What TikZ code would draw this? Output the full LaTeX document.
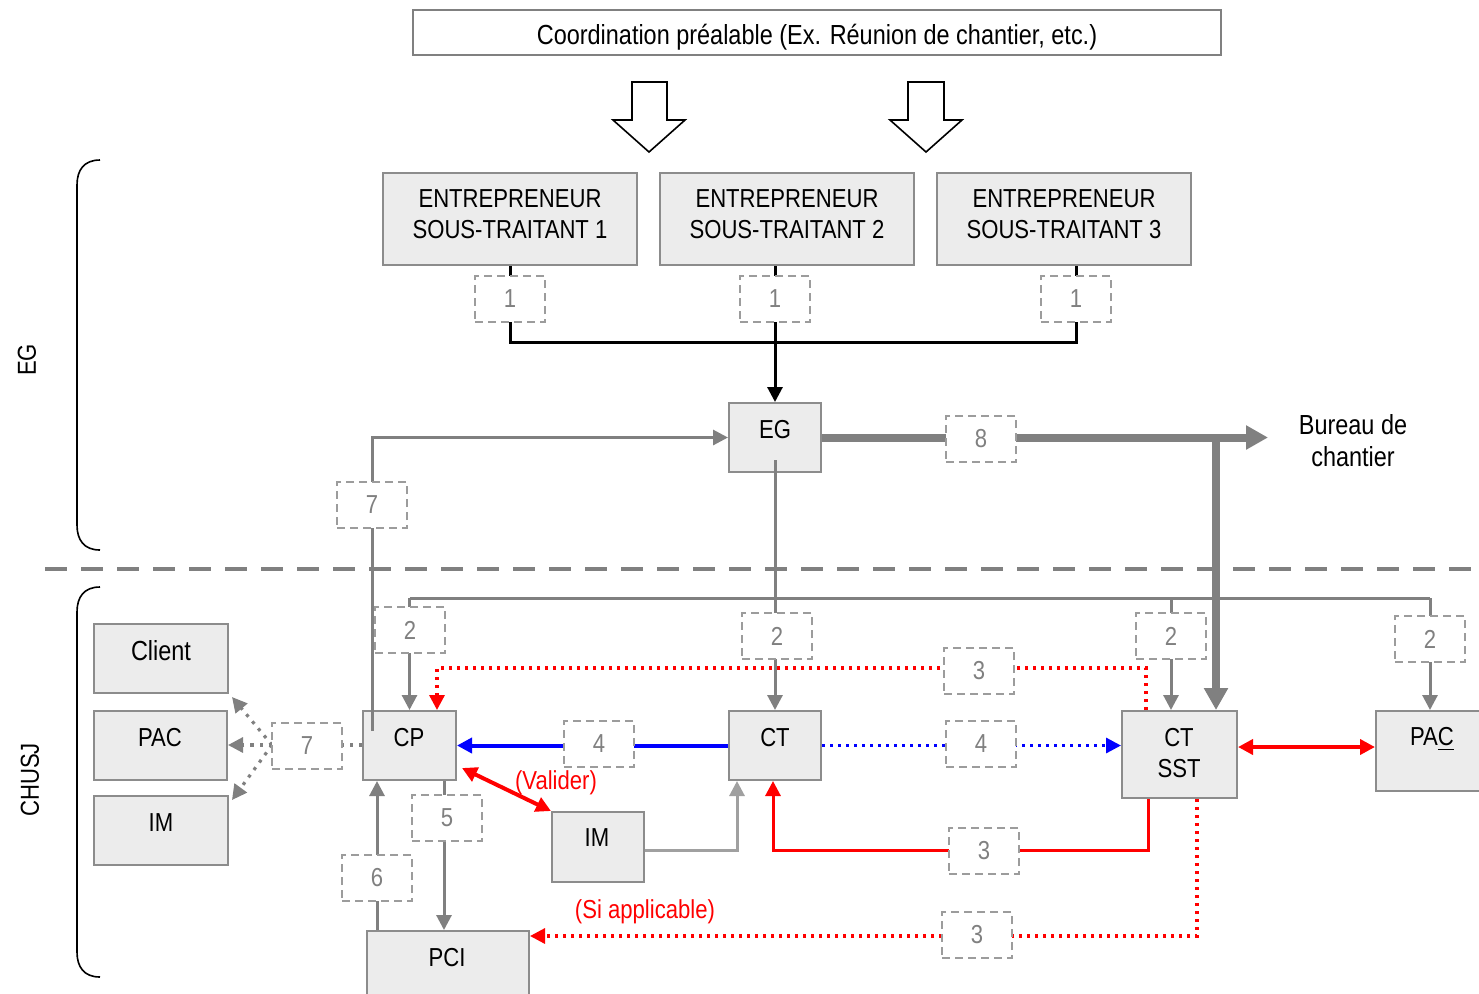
\documentclass[tikz,border=0pt]{standalone}
\usepackage{fontspec}
\setmainfont{Liberation Sans}[FakeStretch=0.85]
\usetikzlibrary{arrows.meta,calc,fit}
\pgfdeclarelayer{lines}
\pgfdeclarelayer{front}
\pgfsetlayers{main,lines,front}
\definecolor{boxfill}{HTML}{ECECEC}
\definecolor{boxline}{HTML}{8C8C8C}
\definecolor{lgray}{HTML}{808080}
\definecolor{dgray}{HTML}{9C9C9C}
\definecolor{mgray}{HTML}{A0A0A0}
\definecolor{myred}{HTML}{FF0000}
\definecolor{myblue}{HTML}{0000FF}
\tikzset{
  box/.style={draw=boxline, fill=boxfill, line width=1pt, inner sep=0pt},
  txt/.style={inner sep=0pt, font=\fontsize{13}{15.5}\selectfont, align=center},
  bigtxt/.style={txt, font=\fontsize{13.8}{16}\selectfont},
  lab/.style={draw=dgray, fill=white, dash pattern=on 4pt off 2.5pt, line width=0.9pt,
    minimum width=35pt, minimum height=23pt, inner sep=0pt, text=lgray,
    font=\fontsize{13}{15}\selectfont},
  gtip/.tip={Triangle[length=7.5pt,width=7.5pt]},
  btip/.tip={Triangle[length=11pt,width=11.5pt]},
  gl/.style={draw=lgray, line width=1.5pt},
  gl2/.style={draw=mgray, line width=1.5pt},
  gthick/.style={draw=lgray, line width=4pt},
  blk/.style={draw=black, line width=1.5pt},
  gdot/.style={draw=lgray, line width=1.6pt, dash pattern=on 1.6pt off 3pt},
  rdot/.style={draw=myred, line width=1.6pt, dash pattern=on 1.6pt off 2.4pt},
  rsol/.style={draw=myred, line width=1.5pt},
  bsol/.style={draw=myblue, line width=2pt},
  bdot/.style={draw=myblue, line width=1.6pt, dash pattern=on 1.6pt off 2.4pt},
  blockarrow/.style={draw=black, line width=0.8pt, fill=white},
  brace/.style={draw=black, line width=0.8pt},
}
\begin{document}
\begin{tikzpicture}[x=0.5pt,y=-0.5pt]
\useasboundingbox (0,0) rectangle (1479,993);

% top box
\node[box, draw=lgray, fill=white, fit={(413,10) (1221,55)}] (top) {};
\node[bigtxt] (toptxt) at (817,37) {Coordination préalable (Ex. Réunion de chantier, etc.)};

% block arrows
\draw[blockarrow] (632,82) -- (667,82) -- (667,120) -- (685,120) -- (649,152) -- (613,120) -- (632,120) -- cycle;
\draw[blockarrow] (908,82) -- (944,82) -- (944,120) -- (962,120) -- (926,152) -- (890,120) -- (908,120) -- cycle;

% entrepreneur boxes
\node[box, fit={(383,173) (637,265)}] (e1) {};
\node[box, fit={(660,173) (914,265)}] (e2) {};
\node[box, fit={(937,173) (1191,265)}] (e3) {};
\node[txt] (e1t) at (510,214) {ENTREPRENEUR\\SOUS-TRAITANT 1};
\node[txt] (e2t) at (787,214) {ENTREPRENEUR\\SOUS-TRAITANT 2};
\node[txt] (e3t) at (1064,214) {ENTREPRENEUR\\SOUS-TRAITANT 3};

% main boxes
\node[box, fit={(729,403) (821,472)}] (eg) {};
\node[txt] (egt) at (775,430) {EG};
\node[box, fit={(94,624) (228,693)}] (client) {};
\node[bigtxt] (clientt) at (161,651) {Client};
\node[box, fit={(94,711) (227,780)}] (pacl) {};
\node[txt] (paclt) at (160,738) {PAC};
\node[box, fit={(94,796) (228,865)}] (iml) {};
\node[txt] (imlt) at (161,823) {IM};
\node[box, fit={(363,711) (456,780)}] (cp) {};
\node[txt] (cpt) at (409,738) {CP};
\node[box, fit={(729,711) (821,780)}] (ct) {};
\node[txt] (ctt) at (775,738) {CT};
\node[box, fit={(1122,711) (1237,798)}] (ctsst) {};
\node[txt] (ctsstt) at (1179,753) {CT\\SST};
\node[box, fit={(1376,711) (1486,791)}] (pacr) {};
\node[txt] (pacrt) at (1432,739) {PA\underline{C}};
\node[box, fit={(552,812) (644,882)}] (imc) {};
\node[txt] (imct) at (597,838) {IM};
\node[box, fit={(367,931) (529,1003)}] (pci) {};
\node[txt] (pcit) at (447,958) {PCI};

% free texts
\node[bigtxt] (bur) at (1353,441) {Bureau de\\chantier};
\node[txt, text=myred] (valider) at (556,783) {(Valider)};
\node[txt, text=myred] (siapp) at (645,912) {(Si applicable)};
\node[txt, rotate=90] (egside) at (27,360) {EG};
\node[txt, rotate=90] (chusj) at (30,780) {CHUSJ};

% braces
\draw[brace] (100,160) .. controls (84,160) and (77,170) .. (77,185) -- (77,525) .. controls (77,540) and (84,550) .. (100,550);
\draw[brace] (100,587) .. controls (84,587) and (77,597) .. (77,612) -- (77,952) .. controls (77,967) and (84,977) .. (100,977);

% separator
\draw[draw=lgray, line width=2pt, dash pattern=on 11pt off 7pt] (45,569) -- (1479,569);

% labels
\begin{pgfonlayer}{front}
\node[lab] (l1a) at (510,299) {1};
\node[lab] (l1b) at (775,299) {1};
\node[lab] (l1c) at (1076,299) {1};
\node[lab] (l7a) at (372,505) {7};
\node[lab] (l8) at (981,439) {8};
\node[lab] (l2a) at (410,630) {2};
\node[lab] (l2b) at (777,636) {2};
\node[lab] (l2c) at (1171,636) {2};
\node[lab] (l2d) at (1430,639) {2};
\node[lab] (l3a) at (979,671) {3};
\node[lab] (l4a) at (599,744) {4};
\node[lab] (l4b) at (981,744) {4};
\node[lab] (l7b) at (307,746) {7};
\node[lab] (l5) at (447,818) {5};
\node[lab] (l3b) at (984,851) {3};
\node[lab] (l6) at (377,878) {6};
\node[lab] (l3c) at (977,935) {3};
\end{pgfonlayer}

% connectors
\begin{pgfonlayer}{lines}
\coordinate (j) at (775,342);
\draw[blk] (l1a |- e1.south) -- (l1a |- j) -- (l1c |- j) -- (l1c |- e3.south);
\draw[blk, -{Triangle[length=7.5pt,width=7.5pt]}] (eg.north |- e2.south) -- (eg.north);

\coordinate (cpin) at (372,731);
\draw[gl, -gtip] (cpin) |- (eg.west);

\coordinate (burtip) at (1268,437.5);
\draw[gthick, -btip] (eg.east) -- (burtip);
\coordinate (tj) at (1216,434);
\draw[gthick, -btip] (tj) -- (tj |- ctsst.north);

\coordinate (egin) at (775,460);
\coordinate (bus) at (775,598);
\draw[gl, -gtip] (egin) -- (ct.north);
\draw[gl] (cp.north |- bus) -- (l2d |- bus);
\draw[gl, -gtip] (cp.north |- bus) -- (cp.north);
\draw[gl, -gtip] (l2c |- bus) -- (l2c |- ctsst.north);
\draw[gl, -gtip] (l2d |- bus) -- (l2d |- pacr.north);

\draw[bsol, -gtip] (ct.west) -- (cp.east);
\draw[bdot, -gtip] (ct.east) -- (ctsst.west |- ct.east);

\coordinate (rd) at (1238,747);
\draw[rsol, line width=2pt, gtip-gtip] (rd) -- (rd -| pacr.west);

\coordinate (r1) at (1146,668);
\coordinate (r2) at (437,668);
\draw[rdot, -gtip] (r1 |- ctsst.north) -- (r1) -- (r2) -- (r2 |- cp.north);

\coordinate (r3) at (1148,850);
\coordinate (r4) at (773,850);
\draw[rsol, -gtip] (r3 |- ctsst.south) -- (r3) -- (r4) -- (r4 |- ct.south);

\coordinate (r5) at (1197,936);
\draw[rdot, -gtip] (r5 |- ctsst.south) -- (r5) -- (r5 -| pci.east);

\coordinate (cpv) at (462,768);
\draw[rsol, line width=2pt, gtip-gtip] (cpv) -- (imc.north west);

\coordinate (imct2) at (737,850);
\draw[gl2, -gtip] (imct2 -| imc.east) -- (imct2) -- (imct2 |- ct.south);

\coordinate (x5) at (444,800);
\draw[gl, -gtip] (x5 |- cp.south) -- (x5 |- pci.north);
\draw[gl, -gtip] (l6 |- pci.north) -- (l6 |- cp.south);

\coordinate (fan) at (272,745);
\draw[gdot] (cp.west |- fan) -- (fan);
\draw[gdot, -gtip] (fan) -- (232,697);
\draw[gdot, -gtip] (fan) -- (pacl.east |- fan);
\draw[gdot, -gtip] (fan) -- (232,800);
\end{pgfonlayer}
\end{tikzpicture}
\end{document}
